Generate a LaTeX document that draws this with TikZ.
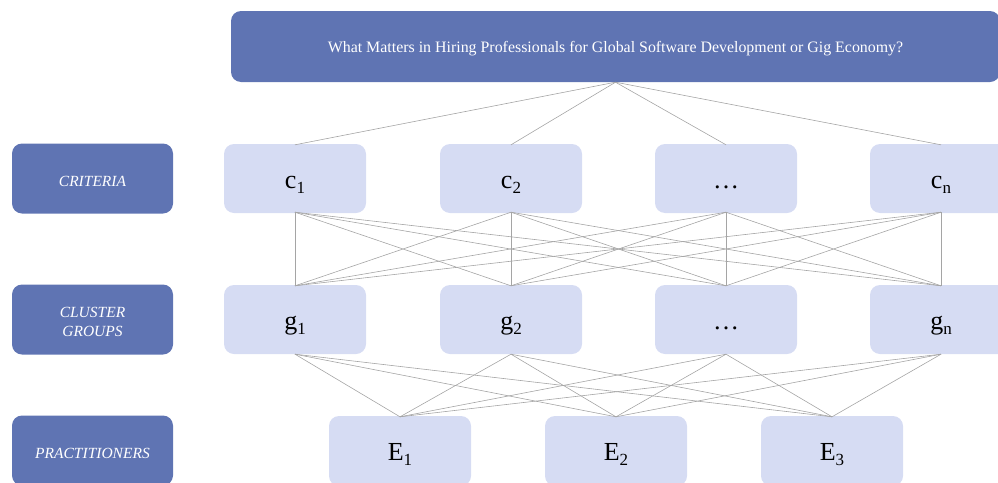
\documentclass[tikz,border=0pt]{standalone}
\usepackage{fontspec}
\setmainfont{Liberation Serif}
\definecolor{dark}{RGB}{95,116,179}
\definecolor{light}{RGB}{214,220,243}
\definecolor{ln}{RGB}{165,165,165}
\newcommand{\mysub}[1]{\raisebox{-0.45ex}{\fontsize{17}{18}\selectfont #1}}
\newcommand{\myell}{…}
\begin{document}
\begin{tikzpicture}[x=1pt,y=-1pt,
  darkbox/.style={fill=dark,rounded corners=10pt,inner sep=0pt,minimum width=161pt,minimum height=70pt},
  darktext/.style={text=white,align=center,inner sep=0pt,yshift=-2.5pt,font=\fontsize{15.5}{19}\selectfont\itshape},
  lightbox/.style={fill=light,rounded corners=10pt,inner sep=0pt,minimum width=142pt,minimum height=69pt,text height=19pt,text depth=0pt,font=\fontsize{26}{28}\selectfont},
  conn/.style={draw=ln,line width=0.6pt}]
\path[use as bounding box,clip] (0,0) rectangle (998,482);
\node[darkbox,minimum width=769pt,minimum height=71pt,label={[darktext,font=\fontsize{15.9}{18}\selectfont]center:What Matters in Hiring Professionals for Global Software Development or Gig Economy?}] (top) at (615.5,46.5) {};
\node[darkbox,label={[darktext]center:CRITERIA}] (crit) at (92.5,178.5) {};
\node[darkbox,label={[darktext]center:CLUSTER\\GROUPS}] (clus) at (92.5,319.5) {};
\node[darkbox,label={[darktext]center:PRACTITIONERS}] (prac) at (92.5,450.5) {};
\node[lightbox] (c1) at (295,178.5) {c\mysub{1}};
\node[lightbox] (c2) at (511,178.5) {c\mysub{2}};
\node[lightbox] (c3) at (726,178.5) {\myell};
\node[lightbox] (c4) at (941,178.5) {c\mysub{n}};
\node[lightbox] (g1) at (295,319.5) {g\mysub{1}};
\node[lightbox] (g2) at (511,319.5) {g\mysub{2}};
\node[lightbox] (g3) at (726,319.5) {\myell};
\node[lightbox] (g4) at (941,319.5) {g\mysub{n}};
\node[lightbox,minimum height=70pt] (e1) at (400,451) {E\mysub{1}};
\node[lightbox,minimum height=70pt] (e2) at (616,451) {E\mysub{2}};
\node[lightbox,minimum height=70pt] (e3) at (832,451) {E\mysub{3}};
\foreach \c in {c1,c2,c3,c4} \draw[conn] (top.south) -- ([yshift=-1pt]\c.north);
\foreach \c in {c1,c2,c3,c4} \foreach \g in {g1,g2,g3,g4} \draw[conn] ([yshift=1pt]\c.south) -- ([yshift=-1pt]\g.north);
\foreach \g in {g1,g2,g3,g4} \foreach \e in {e1,e2,e3} \draw[conn] (\g.south) -- ([yshift=-1pt]\e.north);
\end{tikzpicture}
\end{document}
